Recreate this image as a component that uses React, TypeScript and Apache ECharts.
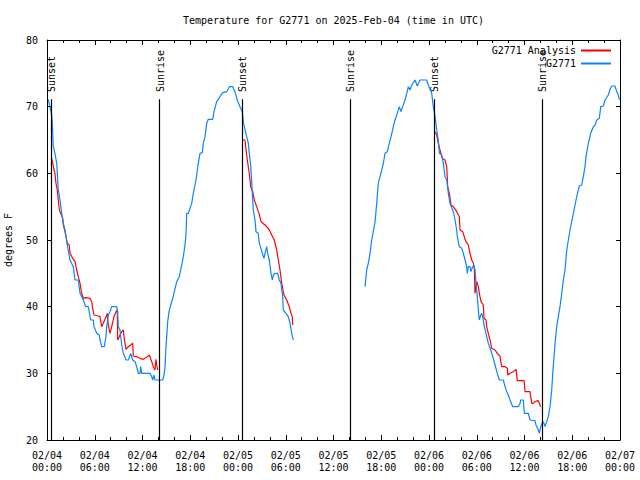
import React, { useEffect, useRef } from "react";
import * as echarts from "echarts";

const FONT = '"DejaVu Sans Mono", "Liberation Mono", monospace';

const TITLE = "Temperature for G2771 on 2025-Feb-04 (time in UTC)";
const Y_NAME = "degrees F";
const ANALYSIS_NAME = "G2771 Analysis";
const OBS_NAME = "G2771";

// hours since 2025-02-04 00:00 UTC, degrees F
const obsSeg1: [number, number][] = [
  [0.16, 71.1], [0.59, 68.75], [0.67, 67.5], [0.79, 64], [1.0, 63], [1.22, 61.5], [1.42, 57.5],
  [1.63, 56], [1.85, 54], [2.05, 52.5], [2.26, 51.5], [2.43, 50.3], [2.55, 49.25], [2.89, 47],
  [3.3, 46], [3.52, 44], [3.93, 44], [4.15, 42], [4.56, 41], [4.86, 40], [5.19, 40], [5.49, 38],
  [5.82, 38], [5.91, 37], [6.25, 36], [6.57, 35.75], [6.66, 35], [6.87, 34], [7.2, 34], [7.41, 35.5],
  [7.5, 37], [7.7, 38.75], [7.92, 39.25], [8.13, 40], [8.76, 40], [8.88, 39.25], [8.96, 37],
  [9.17, 36.5], [9.39, 34.25], [9.59, 33], [9.93, 32], [10.22, 32], [10.52, 33], [10.77, 32],
  [11.06, 31.75], [11.27, 31], [11.47, 30], [11.69, 30], [11.77, 31], [11.9, 30], [12.94, 30],
  [13.16, 29.5], [13.28, 29], [13.45, 29.75], [13.57, 29], [14.54, 29], [14.7, 29.75], [14.83, 31],
  [14.95, 34], [15.04, 35.5], [15.17, 37.75], [15.33, 39.25], [15.54, 40.25], [15.75, 41],
  [16.0, 42.25], [16.3, 43.75], [16.62, 44.5], [16.93, 46.25], [17.13, 47.5], [17.34, 49.25],
  [17.47, 51], [17.55, 54], [17.76, 54], [18.18, 55.5], [18.38, 57], [18.72, 59], [19.01, 61.5],
  [19.23, 63], [19.51, 63.1], [19.64, 64.5], [19.85, 65.5], [20.07, 67.5], [20.27, 68.1],
  [20.82, 68.1], [20.99, 69.25], [21.32, 70.75], [21.74, 71.5], [22.08, 72.1], [22.58, 72.25],
  [22.91, 73], [23.34, 73], [23.62, 72.25], [23.91, 71], [24.25, 70], [24.54, 69.25], [24.67, 67.75],
  [24.88, 66.5], [25.09, 65.5], [25.3, 64.5], [25.42, 63], [25.6, 61], [25.72, 59], [25.8, 57],
  [25.92, 54.5], [26.14, 53], [26.26, 51.25], [26.55, 51], [26.68, 49.5], [26.89, 48.75],
  [27.05, 48], [27.27, 47.25], [27.39, 48], [27.61, 49], [27.73, 48], [27.93, 47], [28.15, 45],
  [28.31, 44], [28.44, 44.75], [28.65, 45], [28.99, 45], [29.19, 44], [29.4, 43.5], [29.62, 41.5],
  [29.69, 39.5], [30.03, 39], [30.32, 38.5], [30.54, 37.5], [30.75, 36], [30.95, 35],
];

const obsSeg2: [number, number][] = [
  [39.96, 43], [40.17, 45.5], [40.37, 46.5], [40.59, 48], [40.8, 50], [41.0, 51.25], [41.22, 52.75],
  [41.43, 55.5], [41.63, 58.5], [41.84, 59.5], [42.06, 60.5], [42.26, 61.5], [42.47, 63],
  [42.76, 63.25], [43.01, 64.5], [43.23, 65.5], [43.52, 67], [43.73, 68], [44.02, 69], [44.27, 70],
  [44.48, 69.25], [44.7, 70], [44.99, 71], [45.2, 72], [45.4, 73], [45.61, 72.5], [45.83, 73.25],
  [46.24, 74], [46.53, 73.1], [46.87, 74], [47.71, 74], [47.91, 73.25], [48.34, 72], [48.54, 70],
  [48.76, 68.5], [48.97, 66.5], [49.17, 65], [49.3, 63], [49.6, 62.75], [49.8, 61.5], [50.01, 59.5],
  [50.23, 59], [50.43, 57], [50.64, 55.5], [51.06, 54.25], [51.27, 53], [51.48, 51.5], [51.56, 50.5],
  [51.81, 49], [52.11, 48.75], [52.31, 48], [52.53, 47], [52.74, 46], [52.81, 45], [52.94, 46],
  [53.15, 46], [53.28, 45.25], [53.44, 45.9], [53.66, 46.25], [53.78, 45.5], [53.91, 43.5],
  [54.07, 41.5], [54.2, 39.5], [54.32, 38], [54.5, 38.75], [54.62, 39], [54.75, 38.5], [54.91, 37.25],
  [55.16, 36], [55.45, 34.5], [55.76, 33.5], [56.01, 32.5], [56.3, 31.25], [56.58, 30], [56.84, 29],
  [57.34, 29], [57.55, 28], [57.77, 27.25], [57.97, 26.75], [58.18, 26], [58.52, 25], [59.22, 25],
  [59.44, 25.5], [59.52, 26], [59.85, 26], [59.98, 24], [60.48, 24], [60.69, 23], [61.32, 22.9],
  [61.44, 22.25], [61.74, 21.5], [61.86, 21], [62.04, 22], [62.29, 22.75], [62.45, 22.5], [62.58, 22],
  [62.79, 22.75], [62.99, 23.5], [63.21, 25], [63.42, 27.5], [63.55, 30], [63.71, 32.5], [63.84, 34.5],
  [64.05, 37], [64.25, 38.5], [64.46, 40], [64.68, 42], [64.88, 44], [65.09, 45.5], [65.31, 48.5],
  [65.51, 50], [65.72, 51.5], [66.06, 53.5], [66.35, 55.25], [66.56, 56.5], [66.89, 58.1],
  [67.19, 58.25], [67.39, 59.5], [67.6, 61], [67.73, 62.5], [68.02, 64.5], [68.32, 66], [68.65, 67],
  [68.86, 67.25], [69.08, 68], [69.4, 68.25], [69.58, 70], [69.91, 70.1], [70.12, 71], [70.53, 71.75],
  [70.75, 72.6], [70.96, 73.1], [71.37, 73.1], [71.59, 72.25], [71.79, 71.75], [71.92, 71],
];

const analysisSeg1: [number, number][] = [
  [0.59, 62.25], [0.72, 61.5], [0.88, 60.5], [1.0, 60], [1.13, 58.5], [1.29, 57.5], [1.42, 56],
  [1.55, 54.5], [1.72, 54], [1.97, 53.25], [2.05, 52.25], [2.26, 51.25], [2.55, 49.5], [2.8, 49.25],
  [2.89, 48], [3.23, 47.25], [3.52, 46.75], [3.73, 45.5], [3.93, 44.5], [4.15, 43.5], [4.36, 42],
  [4.56, 41.25], [4.86, 41.35], [5.4, 41.25], [5.62, 40.75], [5.74, 39.75], [5.91, 38.75],
  [6.45, 38.6], [6.66, 38.5], [6.87, 37], [7.07, 37.5], [7.41, 38.4], [7.58, 39], [7.7, 37.25],
  [7.92, 36], [8.13, 37], [8.42, 38.5], [8.67, 39.25], [8.83, 39.5], [8.88, 35], [9.09, 35.5],
  [9.26, 36], [9.39, 36.25], [9.59, 36.5], [9.68, 35.5], [9.8, 34.5], [9.93, 33.6], [10.22, 34],
  [10.52, 34.25], [10.77, 34.5], [10.84, 32.6], [11.27, 32.5], [11.69, 32.25], [12.1, 32.1],
  [12.53, 32.4], [12.86, 32.75], [13.16, 31.75], [13.36, 31], [13.57, 30.5], [13.7, 32.1],
  [13.78, 31.25], [13.91, 30.5],
];

const analysisSeg2: [number, number][] = [
  [24.59, 65], [24.88, 65], [25.01, 63.5], [25.17, 62], [25.42, 60], [25.6, 58], [25.85, 57.25],
  [26.05, 56], [26.35, 55], [26.64, 54], [26.89, 52.75], [27.39, 52.25], [27.81, 51.75],
  [28.24, 50.75], [28.56, 50], [28.86, 48.5], [29.07, 47], [29.28, 45.5], [29.49, 43.5],
  [29.78, 41.75], [30.12, 41], [30.45, 40], [30.66, 39], [30.82, 38.5], [30.87, 37.25],
];

const analysisSeg3: [number, number][] = [
  [48.76, 66.25], [48.97, 65.75], [49.17, 64.5], [49.38, 63.5], [49.67, 62.25], [50.01, 62],
  [50.23, 61], [50.35, 58], [50.55, 57], [50.77, 55.25], [51.06, 55], [51.48, 54.25], [51.81, 53.5],
  [51.9, 51.5], [52.24, 51.25], [52.53, 50.1], [52.65, 49.75], [52.94, 49.25], [53.15, 48],
  [53.37, 47], [53.57, 46.5], [53.7, 45.5], [53.78, 42], [54.0, 43.75], [54.2, 43], [54.32, 42],
  [54.54, 40.75], [54.83, 40.25], [54.91, 38.25], [55.16, 38], [55.25, 37], [55.45, 36],
  [55.67, 35], [55.88, 33.75], [56.3, 33.5], [56.58, 33], [56.92, 32.6], [57.13, 31], [57.55, 31],
  [57.85, 30.75], [57.89, 29.75], [58.18, 30], [58.6, 30.25], [58.94, 30.6], [59.1, 28.9],
  [59.94, 28.9], [60.07, 27.25], [60.69, 27.25], [60.91, 25.5], [61.11, 25.5], [61.32, 25.75],
  [61.74, 25.9], [61.95, 25.25], [62.04, 25],
];

const sunsetHours = [0.55, 24.55, 48.65];
const sunriseHours = [14.15, 38.1, 62.2];
const DAY_LABELS = ["02/04", "02/05", "02/06", "02/07"];

const X_MIN = 0;
const X_MAX = 72;
const Y_MIN = 20;
const Y_MAX = 80;

function joinSegments(segs: [number, number][][]) {
  const out: any[] = [];
  segs.forEach((s, i) => {
    if (i > 0) out.push([s[0][0] - 0.01, "-"]);
    s.forEach((p) => out.push(p));
  });
  return out;
}

function pad(n: number) {
  return n < 10 ? "0" + n : String(n);
}

export default function App() {
  const ref = useRef<HTMLDivElement>(null);

  useEffect(() => {
    document.body.style.margin = "0";
    if (!ref.current) return;
    const chart = echarts.init(ref.current, undefined, { renderer: "svg" });

    const axisLine = { show: true, onZero: false, lineStyle: { color: "#000", width: 1 } };
    const xTick = { show: true, inside: true, length: 5, lineStyle: { color: "#000", width: 1 } };
    const xMinor = { show: true, splitNumber: 3, length: 3, lineStyle: { color: "#000", width: 1 } };
    const yTick = { show: true, inside: true, length: 4, lineStyle: { color: "#000", width: 1 } };
    const events = [
      ...sunsetHours.map((h) => ({ h, label: "Sunset" })),
      ...sunriseHours.map((h) => ({ h, label: "Sunrise" })),
    ];

    const option: any = {
      animation: false,
      backgroundColor: "#fff",
      title: {
        text: TITLE,
        left: 333.5,
        textAlign: "center",
        top: 14,
        padding: 0,
        textStyle: { fontFamily: FONT, fontSize: 10, fontWeight: "normal", color: "#000", lineHeight: 13 },
      },
      legend: {
        orient: "vertical",
        right: 29,
        top: 44,
        padding: 0,
        align: "right",
        itemWidth: 30,
        itemHeight: 2,
        itemGap: 0,
        icon: "rect",
        data: [ANALYSIS_NAME, OBS_NAME],
        textStyle: { fontFamily: FONT, fontSize: 10, color: "#000", lineHeight: 13 },
      },
      grid: { left: 47, right: 20, top: 40, bottom: 40, containLabel: false, outerBoundsMode: "none" },
      xAxis: [
        {
          type: "value",
          min: X_MIN,
          max: X_MAX,
          interval: 6,
          position: "bottom",
          axisLine,
          axisTick: xTick,
          minorTick: xMinor,
          splitLine: { show: false },
          minorSplitLine: { show: false },
          axisLabel: {
            margin: 9,
            fontFamily: FONT,
            fontSize: 10,
            lineHeight: 12,
            color: "#000",
            showMinLabel: true,
            showMaxLabel: true,
            formatter: (v: number) => {
              const d = Math.floor(v / 24);
              const hh = Math.round(v - d * 24);
              return DAY_LABELS[d] + "\n" + pad(hh) + ":00";
            },
          },
        },
        {
          type: "value",
          min: X_MIN,
          max: X_MAX,
          interval: 6,
          position: "top",
          axisLine,
          axisTick: xTick,
          minorTick: xMinor,
          splitLine: { show: false },
          minorSplitLine: { show: false },
          axisLabel: { show: false },
        },
      ],
      yAxis: [
        {
          type: "value",
          min: Y_MIN,
          max: Y_MAX,
          interval: 10,
          position: "left",
          name: Y_NAME,
          nameLocation: "middle",
          nameGap: 34,
          nameTextStyle: { fontFamily: FONT, fontSize: 10, color: "#000" },
          axisLine,
          axisTick: yTick,
          splitLine: { show: false },
          axisLabel: { margin: 9, fontFamily: FONT, fontSize: 10, color: "#000" },
        },
        {
          type: "value",
          min: Y_MIN,
          max: Y_MAX,
          interval: 10,
          position: "right",
          axisLine,
          axisTick: yTick,
          splitLine: { show: false },
          axisLabel: { show: false },
        },
      ],
      series: [
        {
          name: ANALYSIS_NAME,
          type: "line",
          xAxisIndex: 0,
          yAxisIndex: 0,
          showSymbol: false,
          symbol: "none",
          connectNulls: false,
          color: "#ff0000",
          lineStyle: { color: "#ff0000", width: 1.2 },
          data: joinSegments([analysisSeg1, analysisSeg2, analysisSeg3]),
          markLine: {
            silent: true,
            symbol: "none",
            animation: false,
            label: { show: false },
            lineStyle: { color: "#000", type: "solid", width: 1.2 },
            data: events.map((e) => [
              { coord: [e.h, Y_MIN] },
              { coord: [e.h, 71.1] },
            ]),
          },
        },
        {
          name: OBS_NAME,
          type: "line",
          xAxisIndex: 0,
          yAxisIndex: 0,
          showSymbol: false,
          symbol: "none",
          connectNulls: false,
          color: "#0a84ff",
          lineStyle: { color: "#0a84ff", width: 1.2 },
          data: joinSegments([obsSeg1, obsSeg2]),
        },
      ],
    };

    chart.setOption(option);

    const graphics = events.map((e) => {
      const p = chart.convertToPixel({ gridIndex: 0 }, [e.h, 72.2]) as number[];
      return {
        type: "text",
        x: p[0] + 0.5,
        y: p[1],
        rotation: Math.PI / 2,
        silent: true,
        style: {
          text: e.label,
          fill: "#000",
          font: `10px ${FONT}`,
          align: "left",
          verticalAlign: "middle",
        },
      };
    });
    chart.setOption({ graphic: graphics });

    return () => chart.dispose();
  }, []);

  return <div ref={ref} style={{ width: 640, height: 480 }} />;
}
